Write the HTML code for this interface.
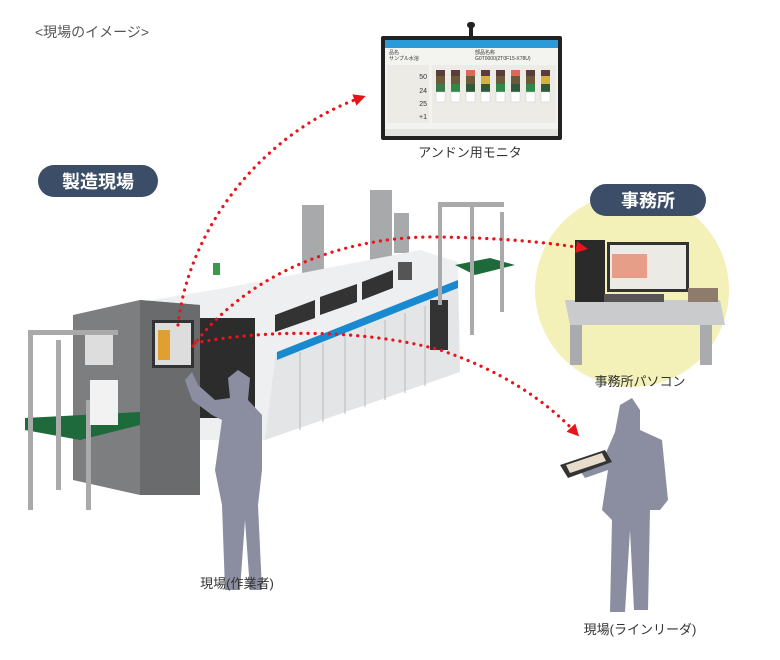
<!DOCTYPE html>
<html><head><meta charset="utf-8"><style>
html,body{margin:0;padding:0;background:#fff;width:780px;height:660px;overflow:hidden}
svg{display:block}
text{font-family:"Liberation Sans","Noto Sans CJK JP",sans-serif}
</style></head><body>
<svg width="780" height="660" viewBox="0 0 780 660">
<defs>
<marker id="ar" markerWidth="12" markerHeight="12" refX="6" refY="6" orient="auto" markerUnits="userSpaceOnUse"><path d="M0,0 L12,6 L0,12 z" fill="#e8141b"/></marker>
</defs>
<text x="35" y="37" font-size="14" fill="#555">&lt;現場のイメージ&gt;</text>

<circle cx="632" cy="290" r="97" fill="#f3f0b8"/>
<rect x="590" y="184" width="116" height="32" rx="16" fill="#3b4d67"/>
<text x="648" y="207" font-size="18" font-weight="bold" fill="#fff" text-anchor="middle">事務所</text>
<polygon points="565,300 720,300 725,325 570,325" fill="#c9cbcd"/>
<rect x="570" y="325" width="12" height="40" fill="#a9abae"/>
<rect x="700" y="325" width="12" height="40" fill="#a9abae"/>
<rect x="575" y="240" width="30" height="62" fill="#2a2a2a"/>
<rect x="607" y="242" width="82" height="50" fill="#333"/>
<rect x="610" y="245" width="76" height="44" fill="#eceae5"/>
<rect x="612" y="254" width="35" height="24" fill="#e46b4a" opacity=".6"/>
<rect x="604" y="294" width="60" height="8" fill="#555"/>
<rect x="688" y="288" width="30" height="14" fill="#8f7b6c"/>
<text x="640" y="386" font-size="13" fill="#333" text-anchor="middle">事務所パソコン</text>

<rect x="467" y="22" width="8" height="6" rx="3" fill="#222"/>
<rect x="469" y="27" width="4" height="10" fill="#222"/>
<rect x="381" y="36" width="181" height="104" rx="2" fill="#222"/>
<rect x="385" y="40" width="173" height="96" fill="#f3f3f0"/>
<rect x="385" y="40" width="173" height="8" fill="#2b9ad8"/>
<rect x="385" y="129" width="173" height="7" fill="#e4e4e2"/>
<text x="389" y="54" font-size="5" fill="#333">品名</text>
<text x="389" y="60" font-size="5" fill="#333">サンプル水溶</text>
<text x="475" y="54" font-size="5" fill="#333">部品名称</text>
<text x="475" y="60" font-size="5" fill="#333">G0T0000(2T0F15-X78U)</text>
<rect x="387" y="65" width="42" height="58" fill="#ecebe6"/>
<text x="427" y="79" font-size="7" fill="#333" text-anchor="end">50</text>
<text x="427" y="93" font-size="7" fill="#333" text-anchor="end">24</text>
<text x="427" y="106" font-size="7" fill="#333" text-anchor="end">25</text>
<text x="427" y="119" font-size="7" fill="#333" text-anchor="end">+1</text>
<rect x="432" y="65" width="124" height="58" fill="#ecebe6"/>
<g>
<g transform="translate(436,70)"><rect width="9" height="6" fill="#5a3c3a"/><rect y="6" width="9" height="8" fill="#6b5a3a"/><rect y="14" width="9" height="8" fill="#3a7a4a"/><rect y="22" width="9" height="10" fill="#fff" stroke="#ccc" stroke-width=".5"/></g>
<g transform="translate(451,70)"><rect width="9" height="6" fill="#5a3c3a"/><rect y="6" width="9" height="8" fill="#6b5a3a"/><rect y="14" width="9" height="8" fill="#2f8a4a"/><rect y="22" width="9" height="10" fill="#fff" stroke="#ccc" stroke-width=".5"/></g>
<g transform="translate(466,70)"><rect width="9" height="6" fill="#e0655a"/><rect y="6" width="9" height="8" fill="#6b5a3a"/><rect y="14" width="9" height="8" fill="#2f5a3a"/><rect y="22" width="9" height="10" fill="#fff" stroke="#ccc" stroke-width=".5"/></g>
<g transform="translate(481,70)"><rect width="9" height="6" fill="#5a3c3a"/><rect y="6" width="9" height="8" fill="#d8b040"/><rect y="14" width="9" height="8" fill="#2f5a3a"/><rect y="22" width="9" height="10" fill="#fff" stroke="#ccc" stroke-width=".5"/></g>
<g transform="translate(496,70)"><rect width="9" height="6" fill="#5a3c3a"/><rect y="6" width="9" height="8" fill="#6b5a3a"/><rect y="14" width="9" height="8" fill="#2f8a4a"/><rect y="22" width="9" height="10" fill="#fff" stroke="#ccc" stroke-width=".5"/></g>
<g transform="translate(511,70)"><rect width="9" height="6" fill="#e0655a"/><rect y="6" width="9" height="8" fill="#6b5a3a"/><rect y="14" width="9" height="8" fill="#2f5a3a"/><rect y="22" width="9" height="10" fill="#fff" stroke="#ccc" stroke-width=".5"/></g>
<g transform="translate(526,70)"><rect width="9" height="6" fill="#5a3c3a"/><rect y="6" width="9" height="8" fill="#6b5a3a"/><rect y="14" width="9" height="8" fill="#2f8a4a"/><rect y="22" width="9" height="10" fill="#fff" stroke="#ccc" stroke-width=".5"/></g>
<g transform="translate(541,70)"><rect width="9" height="6" fill="#5a3c3a"/><rect y="6" width="9" height="8" fill="#d8b040"/><rect y="14" width="9" height="8" fill="#2f5a3a"/><rect y="22" width="9" height="10" fill="#fff" stroke="#ccc" stroke-width=".5"/></g>
</g>
<text x="470" y="157" font-size="13" fill="#333" text-anchor="middle">アンドン用モニタ</text>

<rect x="38" y="165" width="120" height="32" rx="16" fill="#3b4d67"/>
<text x="98" y="188" font-size="18" font-weight="bold" fill="#fff" text-anchor="middle">製造現場</text>

<!-- machine -->
<rect x="302" y="205" width="22" height="72" fill="#a8a9ab"/>
<rect x="370" y="190" width="22" height="70" fill="#a8a9ab"/>
<rect x="394" y="213" width="15" height="40" fill="#a8a9ab"/>
<polygon points="140,302 225,288 420,250 458,262 460,370 265,440 200,440 200,310" fill="#eeeff0"/>
<polygon points="276,352 458,286 460,372 265,440" fill="#e4e5e7"/>
<g stroke="#bbb" stroke-width="1">
<line x1="300" y1="352" x2="300" y2="430"/><line x1="323" y1="343" x2="323" y2="422"/><line x1="345" y1="335" x2="345" y2="414"/><line x1="365" y1="328" x2="365" y2="407"/><line x1="385" y1="320" x2="385" y2="400"/><line x1="405" y1="313" x2="405" y2="393"/><line x1="425" y1="306" x2="425" y2="386"/>
</g>
<polygon points="277,352 458,280 458,288 277,360" fill="#1a8ad0"/>
<polygon points="275,315 315,300 315,318 275,332" fill="#333"/>
<polygon points="320,297 357,284 357,302 320,315" fill="#333"/>
<polygon points="362,282 393,270 393,288 362,300" fill="#333"/>
<rect x="398" y="262" width="14" height="18" fill="#555"/>
<rect x="430" y="300" width="18" height="50" fill="#333"/>
<rect x="200" y="318" width="55" height="100" fill="#2c2c2c"/>
<rect x="213" y="263" width="7" height="12" fill="#3a9a4a"/>
<polygon points="73,315 140,300 200,305 200,495 140,495 73,480" fill="#7d7e80"/>
<polygon points="140,300 200,305 200,495 140,495" fill="#6a6b6d"/>
<rect x="152" y="320" width="42" height="48" fill="#333"/>
<rect x="155" y="323" width="36" height="42" fill="#ddd"/>
<rect x="158" y="330" width="12" height="30" fill="#e0a030"/>
<polygon points="25,418 140,412 140,425 80,440 25,430" fill="#1e6a3a"/>
<rect x="28" y="335" width="5" height="175" fill="#aaa"/>
<rect x="56" y="340" width="5" height="150" fill="#aaa"/>
<rect x="86" y="400" width="5" height="110" fill="#aaa"/>
<rect x="28" y="330" width="90" height="5" fill="#aaa"/>
<rect x="85" y="335" width="28" height="30" fill="#ddd"/>
<rect x="90" y="380" width="28" height="45" fill="#f2f2f2"/>
<polygon points="455,265 490,258 515,265 475,275" fill="#1e6a3a"/>
<rect x="438" y="205" width="4" height="100" fill="#aaa"/>
<rect x="470" y="205" width="4" height="130" fill="#aaa"/>
<rect x="500" y="212" width="4" height="100" fill="#aaa"/>
<rect x="438" y="202" width="66" height="5" fill="#aaa"/>

<path d="M185,380 L192,400 L212,415 L222,420 L215,470 L222,505 L225,590 L240,590 L245,520 L250,590 L262,590 L258,505 L262,470 L262,415 L248,400 L250,378 L238,370 L228,378 L230,398 L215,400 L198,385 L192,372 Z" fill="#8a8ea0"/>
<text x="237" y="588" font-size="13" fill="#333" text-anchor="middle">現場(作業者)</text>

<path d="M620,405 L632,398 L640,410 L640,430 L662,440 L668,500 L660,510 L650,510 L648,610 L634,610 L630,530 L625,612 L610,612 L612,520 L602,510 L608,470 L585,478 L578,468 L605,455 L615,432 Z" fill="#8a8ea0"/>
<polygon points="560,465 605,450 612,462 568,478" fill="#333"/>
<polygon points="566,465 602,453 606,461 570,473" fill="#e8dccc"/>
<text x="640" y="634" font-size="13" fill="#333" text-anchor="middle">現場(ラインリーダ)</text>

<g fill="none" stroke="#e8141b" stroke-width="3.2" stroke-linecap="round" stroke-dasharray="0.1 7">
<path d="M178,325 C190,220 270,130 360,98" marker-end="url(#ar)"/>
<path d="M193,346 C250,270 350,235 440,237 C500,238 545,242 582,248" marker-end="url(#ar)"/>
<path d="M195,343 C260,330 360,328 440,350 C500,370 545,400 575,432" marker-end="url(#ar)"/>
</g>
</svg>
</body></html>
